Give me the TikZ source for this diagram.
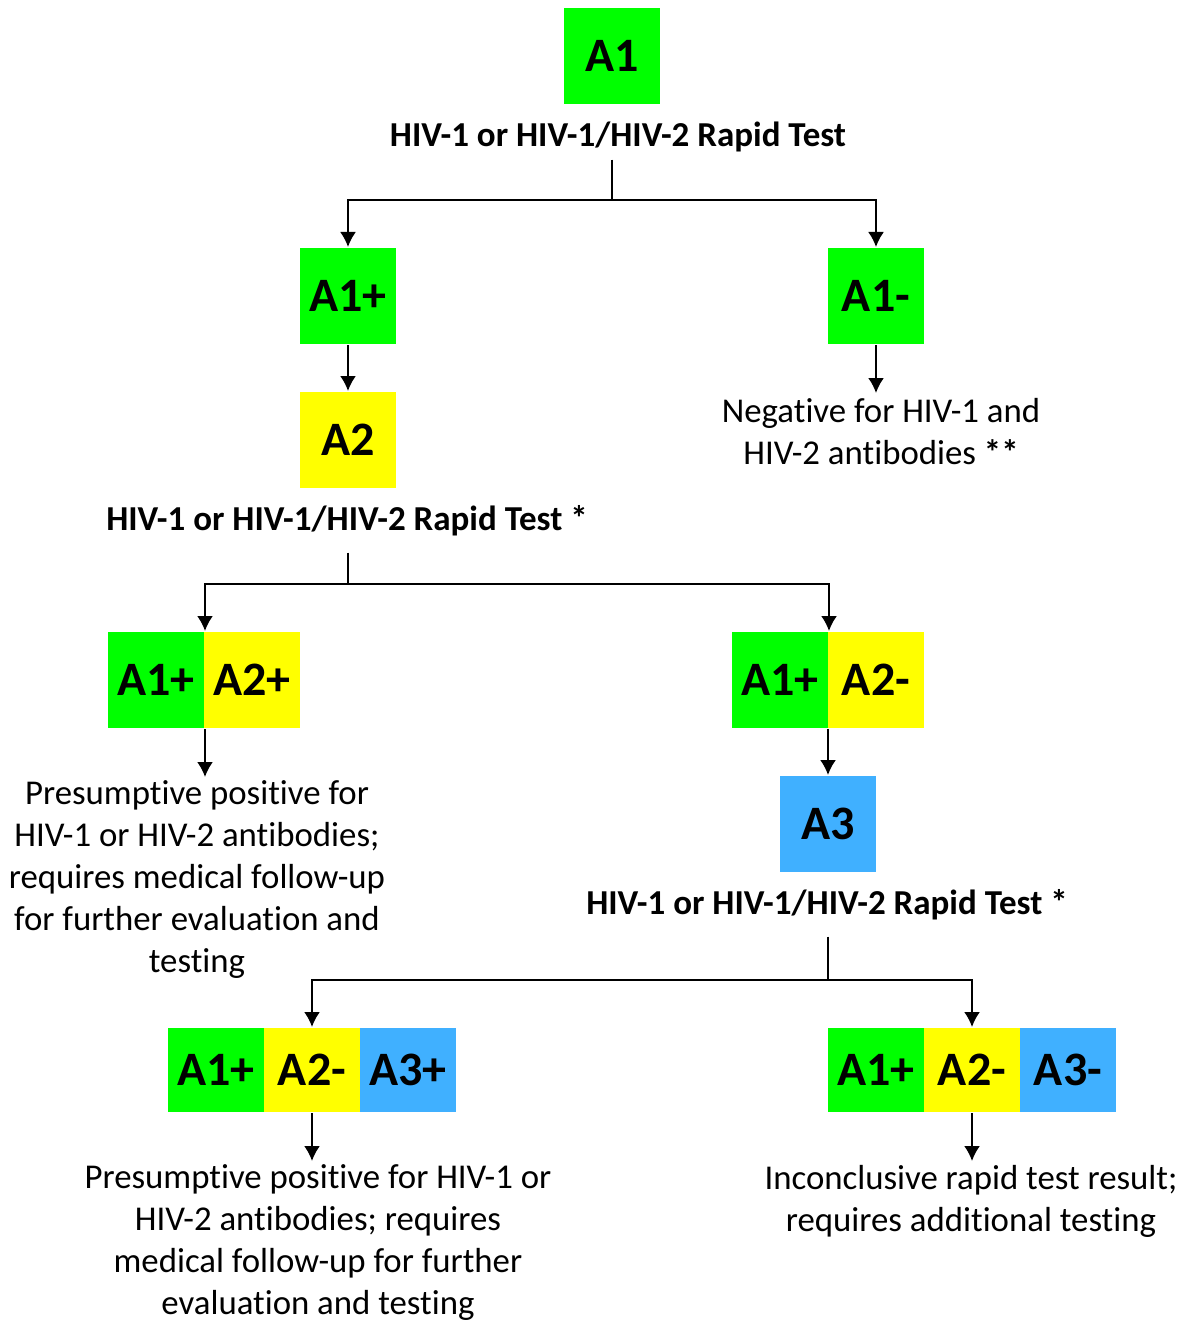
\documentclass[tikz,border=0pt]{standalone}
\usepackage{fontspec}
\setmainfont{Carlito}[Ligatures=NoCommon]
\usetikzlibrary{arrows.meta}

\definecolor{testgreen}{RGB}{0,255,0}
\definecolor{testyellow}{RGB}{255,255,0}
\definecolor{testblue}{RGB}{64,176,255}

\begin{document}
\begin{tikzpicture}[x=0.5pt, y=-0.5pt, line width=1pt,
    every text node part/.style={align=center},
    result/.style={minimum width=48pt, minimum height=48pt, inner sep=0pt, font=\fontsize{24}{28}\selectfont\bfseries},
    smallresult/.style={result, minimum height=42pt},
    testname/.style={inner sep=0pt, font=\fontsize{17.5}{21}\selectfont\bfseries},
    outcome/.style={inner sep=0pt, font=\fontsize{17.4}{21}\selectfont},
    arrow/.style={-{Latex[length=7.5pt, width=8pt]}}]
        \useasboundingbox (0,0) rectangle (1186,1321);

        % first test
        \node(A1)[result, fill=testgreen] at (612, 56){A1};
        \node(Test1)[testname, anchor=base] at (618, 147){HIV-1 or HIV-1/HIV-2 Rapid Test};
        \coordinate(split1) at (612, 200);

        \node(A1pos)[result, fill=testgreen] at (348, 296){A1+};
        \node(A1neg)[result, fill=testgreen] at (876, 296){A1-};
        \node(Negative)[outcome, anchor=north] at (881, 397){Negative for HIV-1 and\\HIV-2 antibodies \textbf{**}};

        % second test
        \node(A2)[result, fill=testyellow] at (348, 440){A2};
        \node(Test2)[testname, anchor=base] at (347, 530){HIV-1 or HIV-1/HIV-2 Rapid Test *};
        \coordinate(split2) at (348, 584);

        \node(PosA1)[result, fill=testgreen] at (156, 680){A1+};
        \node(PosA2)[result, fill=testyellow] at (252, 680){A2+};
        \node(Presumptive)[outcome, anchor=north] at (197, 780){Presumptive positive for\\HIV-1 or HIV-2 antibodies;\\requires medical follow-up\\for further evaluation and\\testing};

        \node(DisA1)[result, fill=testgreen] at (780, 680){A1+};
        \node(DisA2)[result, fill=testyellow] at (876, 680){A2-};

        % third test
        \node(A3)[result, fill=testblue] at (828, 824){A3};
        \node(Test3)[testname, anchor=base] at (827, 914){HIV-1 or HIV-1/HIV-2 Rapid Test *};
        \coordinate(split3) at (828, 980);

        \node(TieA1)[smallresult, fill=testgreen] at (216, 1070){A1+};
        \node(TieA2)[smallresult, fill=testyellow] at (312, 1070){A2-};
        \node(TieA3)[smallresult, fill=testblue] at (408, 1070){A3+};
        \node(TiePositive)[outcome, anchor=north] at (318, 1164){Presumptive positive for HIV-1 or\\HIV-2 antibodies; requires\\medical follow-up for further\\evaluation and testing};

        \node(IncA1)[smallresult, fill=testgreen] at (876, 1070){A1+};
        \node(IncA2)[smallresult, fill=testyellow] at (972, 1070){A2-};
        \node(IncA3)[smallresult, fill=testblue] at (1068, 1070){A3-};
        \node(Inconclusive)[outcome, anchor=north] at (971, 1164){Inconclusive rapid test result;\\requires additional testing};

        % connectors
        \draw (Test1.south -| A1.south) ++(0,6) -- (split1);
        \draw[arrow] (split1) -| (A1pos.north);
        \draw[arrow] (split1) -| (A1neg.north);
        \draw[arrow] (A1pos) -- (A2);
        \draw[arrow] (A1neg.south) -- ++(0,48);

        \draw (Test2.south -| A2.south) ++(0,16) -- (split2);
        \draw[arrow] (split2) -| (PosA1.north east);
        \draw[arrow] (split2) -| (DisA1.north east);
        \draw[arrow] (PosA1.south east) -- ++(0,48);
        \draw[arrow] (A3.north |- DisA1.south) -- (A3.north);

        \draw (Test3.south -| A3.south) ++(0,16) -- (split3);
        \draw[arrow] (split3) -| (TieA2.north);
        \draw[arrow] (split3) -| (IncA2.north);
        \draw[arrow] (TieA2.south) -- ++(0,48);
        \draw[arrow] (IncA2.south) -- ++(0,48);
\end{tikzpicture}
\end{document}
